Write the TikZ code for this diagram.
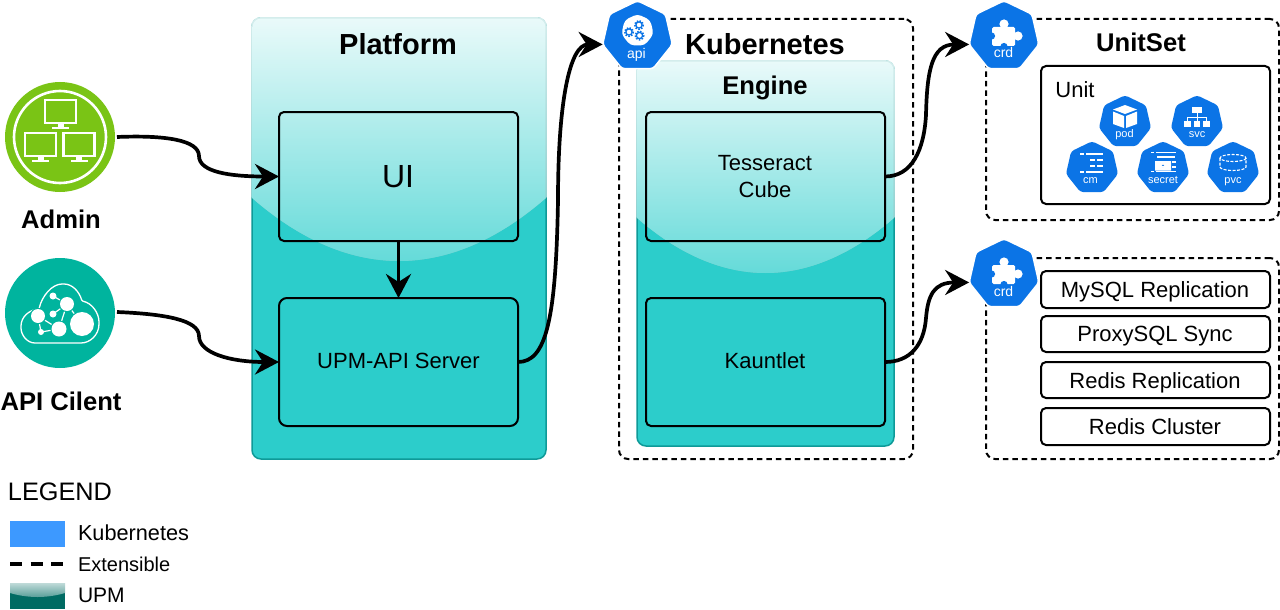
\documentclass[tikz,border=0pt]{standalone}
\usepackage{fontspec}
\setmainfont{Liberation Sans}
\usetikzlibrary{arrows.meta,shapes.geometric}
\definecolor{teal1}{HTML}{2CCDCB}
\definecolor{tealedge}{HTML}{0E9A98}
\definecolor{k8s}{HTML}{0B74E6}
\definecolor{legblue}{HTML}{3D99FF}
\definecolor{adming}{HTML}{7AC415}
\definecolor{clientg}{HTML}{00B49E}
\definecolor{legdark}{RGB}{0,107,99}
\colorlet{glassbt}{white!82!tealedge}
\colorlet{glassbb}{white!45!tealedge}
\tikzset{
  panel/.style={draw=tealedge,line width=1.5pt,fill=teal1,rectangle,rounded corners=9pt,inner sep=0,outer sep=0},
  inner box/.style={draw=black,line width=2pt,rectangle,rounded corners=5pt,inner sep=0,outer sep=0,font=\fontsize{22}{26}\selectfont},
  list box/.style={draw=black,line width=2pt,fill=white,rectangle,rounded corners=5pt,inner sep=0,outer sep=0,minimum width=229pt,font=\fontsize{22}{26}\selectfont,text depth=0pt},
  ext box/.style={draw=black,line width=2pt,dash pattern=on 5.5pt off 4pt,rectangle,rounded corners=9pt,inner sep=0,outer sep=0},
  big hept/.style={regular polygon,regular polygon sides=7,fill=k8s,draw=white,line width=1.5pt,rounded corners=3pt,minimum size=71.5pt,inner sep=0,outer sep=0},
  small hept/.style={regular polygon,regular polygon sides=7,fill=k8s,rounded corners=3pt,minimum size=53.4pt,inner sep=0,outer sep=0},
  label/.style={anchor=base,inner sep=0,outer sep=0},
  conn/.style={line width=3.7pt,draw=black,-{Stealth[length=24pt,width=25pt,inset=8pt]}},
  wl/.style={white,line width=1.6pt},
}
\newcommand{\glasspanel}[8]{%
  \begin{scope}
    \clip (#1-1,#2-1) -- (#3+1,#2-1) -- (#3+1,#5)
      .. controls ({#1+(#3-#1)*0.84},{#5+(#6-#5)*0.66}) and ({#1+(#3-#1)*0.67},#6) .. ({(#1+#3)/2},#6)
      .. controls ({#1+(#3-#1)*0.33},#6) and ({#1+(#3-#1)*0.16},{#5+(#6-#5)*0.66}) .. (#1-1,#5) -- cycle;
    \begin{scope}
      \clip[rounded corners=9pt] (#1-.8,#2-.8) rectangle (#3+.8,#6+50);
      \shade[top color=glassbt,bottom color=glassbb] (#1-1,#2-1) rectangle (#3+1,#6);
    \end{scope}
    \begin{scope}
      \clip[rounded corners=8pt] (#1+.7,#2+.7) rectangle (#3-.7,#6+50);
      \shade[top color=#7,bottom color=#8] (#1-1,#2-1) rectangle (#3+1,#6);
    \end{scope}
  \end{scope}}
\tikzset{
  crdglyph/.pic={
    \fill[white,rounded corners=1.5pt] (-12,-12) rectangle (11,7);
    \fill[white] (0,-15) circle (4.6);
    \fill[white] (14,-3) circle (4.6);
    \fill[k8s] (-12.5,-3) circle (3.6);
    \fill[k8s] (0,7.5) circle (3.6);
  },
  gearglyph/.pic={
    \draw[k8s,line width=1.6pt,dash pattern=on 1.5pt off 1.4pt] (0,0) circle (4.3);
    \draw[k8s,line width=1.3pt] (0,0) circle (3.1);
  },
  podglyph/.pic={
    \fill[white] (0,-17) -- (12,-12.5) -- (0,-8) -- (-12,-12.5) -- cycle;
    \fill[white] (-12,-10.5) -- (-1,-6) -- (-1,6) -- (-12,2) -- cycle;
    \fill[white] (12,-10.5) -- (1,-6) -- (1,6) -- (12,2) -- cycle;
  },
  svcglyph/.pic={
    \fill[white] (-5.2,-15) rectangle (5.2,-9);
    \fill[white] (-12.8,-1) rectangle (-6,4.5);
    \fill[white] (-3.4,-1) rectangle (3.4,4.5);
    \fill[white] (6,-1) rectangle (12.8,4.5);
    \draw[white,line width=1pt] (0,-9) -- (0,-1) (-9.4,-1) -- (-9.4,-5) -- (9.4,-5) -- (9.4,-1);
  },
  cmglyph/.pic={
    \draw[wl] (-12,-14) -- (-8,-14) (-6,-14) -- (11,-14);
    \draw[wl] (-2,-8) -- (3,-8) (5,-8) -- (11,-8);
    \draw[wl] (-2,-2) -- (3,-2) (5,-2) -- (11,-2);
    \draw[wl] (-12,4) -- (-8,4) (-6,4) -- (11,4);
  },
  secretglyph/.pic={
    \draw[wl] (-12,-15.5) -- (-9,-15.5) (-7,-15.5) -- (13,-15.5);
    \draw[wl] (-6,-11) -- (12,-11);
    \draw[wl] (9,-6) -- (13,-6) (9,-1) -- (13,-1);
    \draw[wl] (-12,3.5) -- (-9,3.5) (-7,3.5) -- (13,3.5);
    \draw[white,line width=1.5pt] (-5,-6) arc (180:360:5 and -5);
    \fill[white,even odd rule] (-8,-7) rectangle (8,2.5) (0,-2) circle (1.6);
  },
  pvcglyph/.pic={
    \draw[white,line width=1.1pt,dash pattern=on 3pt off 1.5pt] (0,-10) ellipse (13 and 3.5);
    \draw[white,line width=1.1pt,dash pattern=on 3pt off 1.5pt] (-13,-10) -- (-13,-1) arc (180:360:13 and -3.5) -- (13,-10);
  },
}
\begin{document}
\begin{tikzpicture}[x=1pt,y=-1pt]
\useasboundingbox (0,0) rectangle (1280,610);

% extensible boxes
\node[ext box,minimum width=294pt,minimum height=440pt] (kube) at (766,239) {};
\node[ext box,minimum width=293pt,minimum height=201pt] (unitset) at (1132.5,119.5) {};
\node[ext box,minimum width=293pt,minimum height=201pt] (ops) at (1132.5,358.5) {};

% panels
\node[panel,minimum width=294pt,minimum height=441pt] (platform) at (399,238.5) {};
\glasspanel{252}{18}{546}{459}{197}{261}{white!90!teal1}{white!27!teal1}
\node[panel,minimum width=257pt,minimum height=385pt] (engine) at (765.5,253.5) {};
\glasspanel{637}{61}{894}{446}{217}{273}{white!90!teal1}{white!27!teal1}

% inner boxes
\node[inner box,minimum width=239pt,minimum height=129pt] (ui) at (398.5,176.5) {};
\node[inner box,minimum width=239pt,minimum height=128pt,rounded corners=8pt] (server) at (398.5,362) {};
\node[inner box,minimum width=239pt,minimum height=129pt] (cube) at (765.5,176.5) {};
\node[inner box,minimum width=239pt,minimum height=128pt] (kauntlet) at (765.5,362) {};
\node[inner box,fill=white,minimum width=229pt,minimum height=138pt] (unit) at (1155.5,135) {};
\node[list box,minimum height=37pt] (mysql) at (1155.5,289.5) {};
\node[list box,minimum height=36pt] (proxy) at (1155.5,334) {};
\node[list box,minimum height=36pt] (redisr) at (1155.5,380) {};
\node[list box,minimum height=37pt] (redisc) at (1155.5,426.5) {};

% titles and labels
\node[label,font=\fontsize{29}{32}\selectfont\bfseries] (tplatform) at (398,55) {Platform};
\node[label,font=\fontsize{29}{32}\selectfont\bfseries] (tkube) at (765,55) {Kubernetes};
\node[label,font=\fontsize{25.6}{30}\selectfont\bfseries] (tengine) at (765,94) {Engine};
\node[label,font=\fontsize{25.6}{30}\selectfont\bfseries] (tunitset) at (1141,52) {UnitSet};
\node[label,font=\fontsize{32}{36}\selectfont] (tui) at (398,187) {UI};
\node[label,font=\fontsize{22}{26}\selectfont] (tserver) at (398.5,368) {UPM-API Server};
\node[label,font=\fontsize{22}{26}\selectfont] (ttess) at (765,170) {Tesseract};
\node[label,font=\fontsize{22}{26}\selectfont] (tcube) at (765,197.5) {Cube};
\node[label,font=\fontsize{22}{26}\selectfont] (tkaunt) at (765,368) {Kauntlet};
\node[label,font=\fontsize{22}{26}\selectfont] (tunit) at (1075,97) {Unit};
\node[label,font=\fontsize{22}{26}\selectfont] (tmysql) at (1155,297) {MySQL Replication};
\node[label,font=\fontsize{22}{26}\selectfont] (tproxy) at (1155,341) {ProxySQL Sync};
\node[label,font=\fontsize{22}{26}\selectfont] (tredisr) at (1155,388) {Redis Replication};
\node[label,font=\fontsize{22}{26}\selectfont] (tredisc) at (1155,434) {Redis Cluster};

% kubernetes icons
\node[big hept] (api) at (637.5,36.5) {};
\node[regular polygon,regular polygon sides=7,fill=white,rounded corners=4pt,minimum size=33pt,inner sep=0,outer sep=0] (apishield) at (637.5,30.5) {};
\pic at (629,32) {gearglyph};
\pic at (639,25) {gearglyph};
\pic at (639.5,35.5) {gearglyph};
\node[label,text=white,font=\fontsize{14}{16}\selectfont] (tapi) at (636.5,59) {api};
\node[big hept] (crda) at (1004,36.5) {};
\pic at (1004,39) {crdglyph};
\node[label,text=white,font=\fontsize{14}{16}\selectfont] (tcrda) at (1003.5,58) {crd};
\node[big hept] (crdb) at (1004,274.5) {};
\pic at (1004,277) {crdglyph};
\node[label,text=white,font=\fontsize{14}{16}\selectfont] (tcrdb) at (1003.5,296) {crd};

\node[small hept] (pod) at (1125,122) {};
\pic at (1125,122) {podglyph};
\node[label,text=white,font=\fontsize{11}{12}\selectfont] (tpod) at (1124.5,137) {pod};
\node[small hept] (svc) at (1197,122) {};
\pic at (1197,122) {svcglyph};
\node[label,text=white,font=\fontsize{11}{12}\selectfont] (tsvc) at (1197,137) {svc};
\node[small hept] (cm) at (1092,168) {};
\pic at (1092,168) {cmglyph};
\node[label,text=white,font=\fontsize{11}{12}\selectfont] (tcm) at (1090.5,183) {cm};
\node[small hept] (secret) at (1163,168) {};
\pic at (1163,168) {secretglyph};
\node[label,text=white,font=\fontsize{11}{12}\selectfont] (tsecret) at (1163,183) {secret};
\node[small hept] (pvc) at (1233,168) {};
\pic at (1233,168) {pvcglyph};
\node[label,text=white,font=\fontsize{11}{12}\selectfont] (tpvc) at (1233,183) {pvc};

% admin icon
\node[circle,fill=adming,minimum size=110pt,inner sep=0,outer sep=0] (admin) at (60,137) {};
\draw[white,line width=2.6pt] (admin.center) circle (46);
\foreach \mx/\my in {60.5/99,40.5/132,79/132}{
  \draw[white,line width=2.3pt] (\mx-15.5,\my+1) rectangle (\mx+15.5,\my+24);
  \fill[white] (\mx-3,\my+25) rectangle (\mx+3,\my+29);
  \fill[white] (\mx-8.5,\my+28) rectangle (\mx+8.5,\my+30);
}
\node[label,font=\fontsize{25.6}{30}\selectfont\bfseries] (tadmin) at (61,228) {Admin};

% client icon
\node[circle,fill=clientg,minimum size=110pt,inner sep=0,outer sep=0] (client) at (60,313) {};
\draw[white,line width=1.3pt,rounded corners=1pt] (36,343)
  .. controls (27,343) and (21,335) .. (21,327)
  .. controls (21,317) and (29,310) .. (39,309)
  .. controls (42,296) and (52,284) .. (63,284)
  .. controls (72,284) and (79,291) .. (82,301)
  .. controls (92,303) and (99,313) .. (99,323)
  .. controls (99,335) and (90,343) .. (80,343) -- cycle;
\draw[white,line width=1.2pt] (38,316) -- (59,329) -- (67,304) -- (53,296) (67,304) -- (53,314) (59,329) -- (41,332) (67,304) -- (82,324) (38,316) -- (41,332);
\fill[clientg] (38,316) circle (8.2) (59,329) circle (8.7) (67,304) circle (8.2) (82,324) circle (13.2);
\fill[white] (82,324) circle (12) (59,329) circle (7.5) (67,304) circle (7) (38,316) circle (7)
  (53,296) circle (3.5) (53,314) circle (3.5) (41,332) circle (3);
\node[label,font=\fontsize{25.6}{30}\selectfont\bfseries] (tclient) at (61,410) {API Cilent};

% connectors
\coordinate (w1) at (199,156);
\coordinate (w2) at (199,336);
\coordinate (w3) at (558,200);
\coordinate (w4) at (926,115);
\coordinate (w5) at (926,318);
\draw[conn] ([xshift=2pt]admin.east) .. controls (165,135) and (199,140) .. (w1) .. controls (199,172) and (230,176.5) .. (ui.west);
\draw[conn] ([xshift=2pt,yshift=1pt]client.east) .. controls (165,314) and (199,320) .. (w2) .. controls (199,353) and (230,362) .. (server.west);
\draw[conn] (ui.south) -- (server.north);
\draw[conn] (server.east) .. controls (546,362) and (556,320) .. (w3) .. controls (558,100) and (570,44.5) .. (api.corner 3);
\draw[conn] (cube.east) .. controls (912,176.5) and (924,150) .. (w4) .. controls (927,70) and (932,44.5) .. (crda.corner 3);
\draw[conn] (kauntlet.east) .. controls (910,362) and (924,345) .. (w5) .. controls (928,295) and (934,282.5) .. (crdb.corner 3);

% legend
\node[label,font=\fontsize{25.3}{30}\selectfont] (tlegend) at (60,500) {LEGEND};
\node[rectangle,fill=legblue,minimum width=55pt,minimum height=26pt,inner sep=0,outer sep=0] (legk) at (37.5,534) {};
\node[label,anchor=base west,font=\fontsize{21.7}{26}\selectfont] (tlegk) at (78,540) {Kubernetes};
\coordinate (legea) at (10,564);
\coordinate (legeb) at (65,564);
\draw[black,line width=3.5pt,dash pattern=on 12pt off 8.5pt] (legea) -- (legeb);
\node[label,anchor=base west,font=\fontsize{20}{24}\selectfont] (tlege) at (78,571) {Extensible};
\node[rectangle,fill=legdark,minimum width=55pt,minimum height=26pt,inner sep=0,outer sep=0] (legu) at (37.5,596) {};
\begin{scope}
  \clip (10,583) -- (65,583) -- (65,593) .. controls (55,596) and (45,597) .. (37.5,597) .. controls (30,597) and (20,596) .. (10,593) -- cycle;
  \shade[top color=white!75!legdark,bottom color=white!35!legdark] (10,583) rectangle (65,597);
\end{scope}
\node[label,anchor=base west,font=\fontsize{21}{25}\selectfont] (tlegu) at (78,602) {UPM};
\end{tikzpicture}
\end{document}
